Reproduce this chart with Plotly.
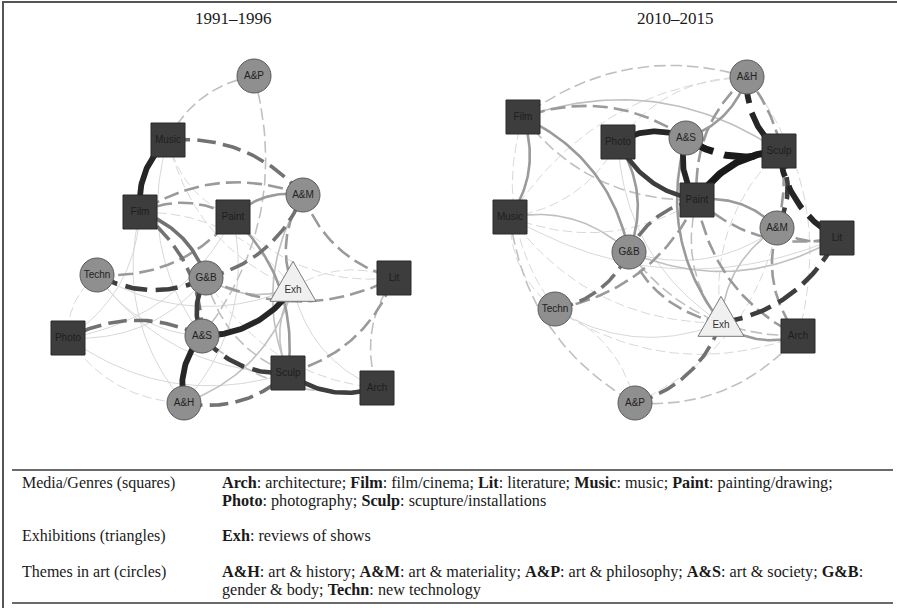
import numpy as np
import plotly.graph_objects as go

# ---------------- data ----------------
panel_titles = ["1991–1996", "2010–2015"]

media_nodes = ["Arch", "Film", "Lit", "Music", "Paint", "Photo", "Sculp"]
exhibition_nodes = ["Exh"]
theme_nodes = ["A&H", "A&M", "A&P", "A&S", "G&B", "Techn"]

# layout coordinates of the network nodes (1991-1996)
left_nodes = ["A&P", "Music", "A&M", "Film", "Paint", "Techn", "G&B", "Exh", "Lit", "Photo", "A&S", "Sculp", "Arch", "A&H"]
left_x = [254, 168, 303, 140, 233, 97, 206, 293, 394, 68, 202, 288, 377, 184]
left_y = [76, 140, 195, 212, 217, 275, 278, 288, 278, 338, 336, 373, 388, 403]

# layout coordinates of the network nodes (2010-2015)
right_nodes = ["A&H", "Film", "Photo", "A&S", "Sculp", "Paint", "Music", "A&M", "Lit", "G&B", "Techn", "Exh", "Arch", "A&P"]
right_x = [747, 523, 618, 686, 779, 697, 510, 777, 837, 629, 555, 721, 798, 635]
right_y = [77, 117, 142, 138, 151, 200, 217, 228, 238, 252, 309, 323, 336, 403]

# edges 1991-1996: source, target, strength (1-7), dashed (1) or solid (0)
left_src = ["Music", "A&M", "A&S", "A&S", "A&S", "Sculp", "G&B", "G&B", "A&S", "Techn",
            "A&H", "A&S", "G&B", "Techn", "G&B", "G&B", "Sculp", "A&M", "A&M", "A&M",
            "Paint", "Sculp", "Exh", "A&M", "Lit", "A&S", "G&B", "Techn", "Photo", "Photo",
            "Photo", "Photo", "Techn", "Music", "Music", "A&P", "A&S", "Lit", "Paint", "Exh",
            "A&H", "A&H", "Film", "Exh", "G&B", "Techn", "Music", "A&M", "Techn", "Photo"]
left_tgt = ["Film", "Music", "A&H", "Exh", "Sculp", "Arch", "A&S", "Film", "Film", "G&B",
            "Sculp", "Photo", "A&M", "Paint", "Lit", "Exh", "Lit", "Lit", "Paint", "Film",
            "Film", "Paint", "Sculp", "Sculp", "Arch", "Arch", "Sculp", "Photo", "Film", "Paint",
            "Sculp", "A&H", "Sculp", "A&S", "Paint", "Music", "A&P", "Exh", "Lit", "Film",
            "Exh", "Paint", "A&H", "Arch", "Arch", "Exh", "Exh", "Exh", "A&S", "G&B"]
left_w = [6, 4, 6, 6, 5, 5, 5, 4, 4, 5,
          4, 4, 4, 3, 3, 2, 3, 3, 3, 3,
          3, 3, 2, 2, 2, 2, 2, 1, 1, 1,
          1, 1, 1, 1, 1, 2, 2, 1, 1, 1,
          2, 1, 1, 1, 1, 1, 1, 3, 1, 1]
left_dash = [0, 1, 0, 0, 1, 0, 0, 0, 1, 1,
             1, 1, 1, 1, 1, 0, 1, 1, 0, 1,
             1, 0, 0, 0, 1, 1, 1, 1, 0, 0,
             0, 1, 0, 0, 1, 1, 1, 1, 1, 1,
             0, 0, 0, 0, 1, 0, 1, 1, 0, 0]

# edges 2010-2015
right_src = ["A&S", "Photo", "A&S", "Sculp", "A&S", "A&H", "Sculp", "A&M", "A&S", "A&H",
             "A&M", "Exh", "A&P", "Paint", "Techn", "Techn", "G&B", "G&B", "Music", "G&B",
             "G&B", "A&S", "Sculp", "A&M", "Paint", "A&M", "Paint", "Paint", "A&S", "A&M",
             "Exh", "A&M", "G&B", "Music", "Music", "Music", "Music", "Music", "A&P", "A&P",
             "Techn", "Techn", "G&B", "G&B", "A&H", "A&H", "A&H", "Arch", "Sculp", "Music",
             "A&P", "Film", "Photo", "Film"]
right_tgt = ["Photo", "Paint", "Paint", "Paint", "Sculp", "Sculp", "Lit", "Sculp", "A&H", "Paint",
             "A&H", "Lit", "Exh", "G&B", "G&B", "Paint", "Exh", "Arch", "Film", "Film",
             "Photo", "Film", "Film", "Paint", "Lit", "Lit", "Arch", "Exh", "Exh", "Arch",
             "Arch", "Exh", "Music", "Paint", "Photo", "Techn", "Exh", "A&P", "Techn", "Arch",
             "Arch", "Exh", "Lit", "A&M", "Film", "Music", "Photo", "A&H", "Exh", "Lit",
             "A&M", "Paint", "Exh", "Techn"]
right_w = [6, 5, 6, 7, 7, 6, 6, 5, 3, 3,
           3, 5, 4, 4, 4, 3, 3, 2, 3, 3,
           3, 3, 2, 3, 3, 3, 3, 2, 3, 3,
           3, 2, 2, 1, 1, 1, 1, 2, 1, 2,
           1, 1, 2, 1, 2, 1, 1, 1, 1, 1,
           1, 2, 1, 1]
right_dash = [0, 0, 0, 0, 1, 1, 1, 1, 0, 1,
              1, 1, 1, 1, 1, 1, 1, 1, 0, 0,
              0, 1, 0, 0, 1, 1, 1, 1, 0, 1,
              0, 0, 0, 1, 1, 1, 1, 1, 1, 1,
              1, 0, 0, 0, 1, 1, 1, 1, 1, 0,
              1, 1, 0, 1]

# legend table
table_labels = ["Media/Genres (squares)", "Exhibitions (triangles)", "Themes in art (circles)"]
table_lines = [
    ["<b>Arch</b>: architecture; <b>Film</b>: film/cinema; <b>Lit</b>: literature; <b>Music</b>: music; <b>Paint</b>: painting/drawing;",
     "<b>Photo</b>: photography; <b>Sculp</b>: scupture/installations"],
    ["<b>Exh</b>: reviews of shows"],
    ["<b>A&amp;H</b>: art &amp; history; <b>A&amp;M</b>: art &amp; materiality; <b>A&amp;P</b>: art &amp; philosophy; <b>A&amp;S</b>: art &amp; society; <b>G&amp;B</b>:",
     "gender &amp; body; <b>Techn</b>: new technology"],
]

# ---------------- styling ----------------
W, H = 897, 608
CURV = 0.25
GRAYS = {1: "#d8d8d8", 2: "#c0c0c0", 3: "#9a9a9a", 4: "#727272", 5: "#3e3e3e", 6: "#262626", 7: "#1a1a1a"}
WIDTHS = {1: 1.0, 2: 1.6, 3: 2.6, 4: 3.6, 5: 4.6, 6: 5.8, 7: 7.0}

fig = go.Figure()


def add_edges(names, xs, ys, src, tgt, wts, dashed):
    pos = {n: (x, y) for n, x, y in zip(names, xs, ys)}
    order = np.argsort(wts, kind="stable")
    t = np.linspace(0, 1, 50)
    for i in order:
        p = np.array(pos[src[i]], dtype=float)
        q = np.array(pos[tgt[i]], dtype=float)
        d = q - p
        c = (p + q) / 2 + CURV * np.array([-d[1], d[0]])
        bx = (1 - t) ** 2 * p[0] + 2 * (1 - t) * t * c[0] + t ** 2 * q[0]
        by = (1 - t) ** 2 * p[1] + 2 * (1 - t) * t * c[1] + t ** 2 * q[1]
        w = wts[i]
        lw = WIDTHS[w]
        dash = "solid"
        if dashed[i]:
            dash = f"{6 + 3.5 * lw:.1f}px,{3 + 1.2 * lw:.1f}px"
        fig.add_trace(go.Scatter(x=bx, y=by, mode="lines",
                                 line=dict(color=GRAYS[w], width=lw, dash=dash),
                                 hoverinfo="skip"))


def add_nodes(names, xs, ys):
    pos = {n: (x, y) for n, x, y in zip(names, xs, ys)}
    sq = [n for n in names if n in media_nodes]
    ci = [n for n in names if n in theme_nodes]
    fig.add_trace(go.Scatter(x=[pos[n][0] for n in sq], y=[pos[n][1] for n in sq], mode="markers+text",
                             marker=dict(symbol="square", size=34, color="#3d3d3d",
                                         line=dict(color="#2b2b2b", width=1)),
                             text=sq, textposition="middle center",
                             textfont=dict(family="Liberation Sans, Arial", size=10, color="#1e1e1e"),
                             hoverinfo="skip"))
    fig.add_trace(go.Scatter(x=[pos[n][0] for n in ci], y=[pos[n][1] for n in ci], mode="markers+text",
                             marker=dict(symbol="circle", size=34, color="#8f8f8f",
                                         line=dict(color="#5a5a5a", width=1)),
                             text=ci, textposition="middle center",
                             textfont=dict(family="Liberation Sans, Arial", size=10, color="#222222"),
                             hoverinfo="skip"))
    for n in exhibition_nodes:
        cx, cy = pos[n]
        tw, th = 46, 40
        fig.add_trace(go.Scatter(x=[cx, cx - tw / 2, cx + tw / 2, cx],
                                 y=[cy - 2 * th / 3, cy + th / 3, cy + th / 3, cy - 2 * th / 3],
                                 mode="lines", fill="toself", fillcolor="#f0f0f0",
                                 line=dict(color="#7a7a7a", width=1), hoverinfo="skip"))
        fig.add_trace(go.Scatter(x=[cx], y=[cy + 2], mode="text", text=[n],
                                 textfont=dict(family="Liberation Sans, Arial", size=10, color="#333333"),
                                 hoverinfo="skip"))


add_edges(left_nodes, left_x, left_y, left_src, left_tgt, left_w, left_dash)
add_edges(right_nodes, right_x, right_y, right_src, right_tgt, right_w, right_dash)
add_nodes(left_nodes, left_x, left_y)
add_nodes(right_nodes, right_x, right_y)

serif = "Liberation Serif, Times New Roman, serif"
ann = []
for title, tx in zip(panel_titles, [233, 675]):
    ann.append(dict(x=tx, y=18, xref="x", yref="y", text=title, showarrow=False,
                    font=dict(family=serif, size=17, color="#1a1a1a"), xanchor="center", yanchor="middle"))

row_y = [[483, 501], [536], [572, 590]]
for lab, lines, ys in zip(table_labels, table_lines, row_y):
    ann.append(dict(x=20, y=ys[0], xref="x", yref="y", text=lab, showarrow=False,
                    font=dict(family=serif, size=16, color="#1a1a1a"), xanchor="left", yanchor="middle"))
    for ln, yy in zip(lines, ys):
        ann.append(dict(x=220, y=yy, xref="x", yref="y", text=ln, showarrow=False,
                        font=dict(family=serif, size=16.2, color="#1a1a1a"), xanchor="left", yanchor="middle"))

shapes = [
    dict(type="line", xref="x", yref="y", x0=2, x1=897, y0=2, y1=2, line=dict(color="#555555", width=2)),
    dict(type="line", xref="x", yref="y", x0=3, x1=3, y0=2, y1=608, line=dict(color="#555555", width=2)),
    dict(type="line", xref="x", yref="y", x0=12, x1=893, y0=470, y1=470, line=dict(color="#6a6a6a", width=1.8)),
    dict(type="line", xref="x", yref="y", x0=12, x1=893, y0=603, y1=603, line=dict(color="#6a6a6a", width=2.2)),
]

fig.update_layout(
    width=W, height=H, autosize=False,
    margin=dict(l=0, r=0, t=0, b=0),
    paper_bgcolor="white", plot_bgcolor="white",
    showlegend=False,
    xaxis=dict(range=[0, W], visible=False, fixedrange=True),
    yaxis=dict(range=[H, 0], visible=False, fixedrange=True),
    annotations=ann, shapes=shapes,
)

fig.write_html("out.html", config={"displayModeBar": False},
               post_script="document.body.style.margin='0px';document.body.style.overflow='hidden';")
